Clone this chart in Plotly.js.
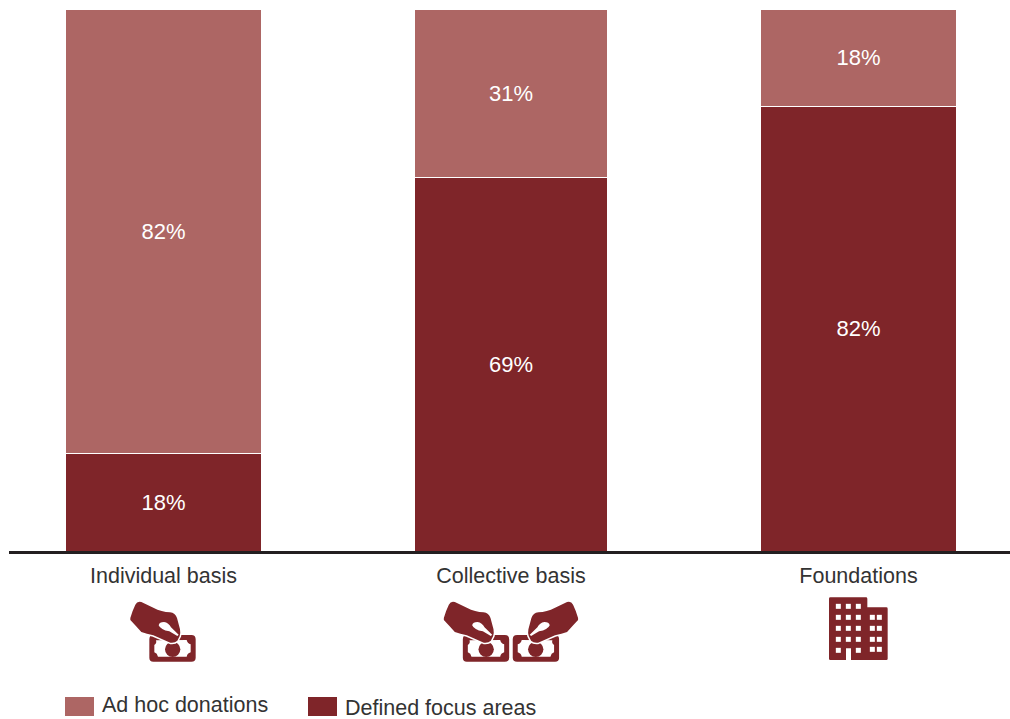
<!DOCTYPE html>
<html>
<head>
<meta charset="utf-8">
<script src="https://cdn.plot.ly/plotly-3.0.1.min.js"></script>
<style>html,body{margin:0;padding:0;background:#fff}#chart{width:1010px;height:719px}</style>
</head>
<body>
<div id="chart"></div>
<script>
// Giving approaches and the share of each that goes to defined focus areas
const categories = ['Individual basis', 'Collective basis', 'Foundations'];
const definedFocusAreas = [18, 69, 82];
const adHocDonations = [82, 31, 18];
const barWidths = [0.564, 0.558, 0.564];

const DARK = '#7f2529';
const LIGHT = '#ad6664';
const INK = '#333333';
const FONT = '"Liberation Sans", Arial, sans-serif';

// Plot area in page pixels, used to place the icons and the key
const W = 1010, H = 719, L = 9, T = 9, B = 551;
const px = x => (x - L) / (W - L);
const py = y => (B - y) / (B - T);

// Hand dropping a banknote, drawn on a 300x240 grid
function handIcon(mirror) {
  const hand = 'M31 84Q38 60 46 44Q52 32 64 36L100 53Q125 66 150 67Q166 69 171 84L180 118Q182 128 179 138L172 152Q164 160 151 158L100 136Q80 132 64 126Q48 108 31 90Z';
  const body =
    '<path fill="' + DARK + '" fill-rule="evenodd" d="M100 135H214Q227 135 227 148V203Q227 215 214 215H100Q88 215 88 203V148Q88 135 100 135Z' +
    'M108 151Q111 160 103 165V187Q112 190 114 200H200Q202 190 212 187V163Q202 160 200 150Z"/>' +
    '<circle cx="158" cy="178" r="23" fill="' + DARK + '"/>' +
    '<path fill="#fff" stroke="#fff" stroke-width="9" stroke-linejoin="round" d="' + hand + '"/>' +
    '<path fill="' + DARK + '" d="' + hand + '"/>' +
    '<path fill="#fff" d="M116 106Q118 96 132 96Q146 98 153 112L176 134L172 138L148 124Q122 120 116 106Z"/>';
  const inner = mirror ? '<g transform="translate(300 0) scale(-1 1)">' + body + '</g>' : body;
  return svgUri(300, 240, inner);
}

// Office building with rows of windows, on a 255x225 grid
function buildingIcon() {
  let s = '<path fill="' + DARK + '" d="M46 22H153Q157 22 157 26V52H214Q218 52 218 56V206Q218 210 214 210H108V175H93V210H46Q42 210 42 206V26Q42 22 46 22Z"/>';
  const rows = [49, 82, 115, 148, 181], cols = [70, 100, 130];
  rows.forEach(r => cols.forEach(c => {
    if (!(r === 181 && c === 100)) s += '<rect fill="#fff" x="' + (c - 7.5) + '" y="' + (r - 7.5) + '" width="15" height="15"/>';
  }));
  [82, 115, 148, 178].forEach(r => [172, 193].forEach(c => {
    s += '<rect fill="#fff" x="' + (c - 7.5) + '" y="' + (r - 7.5) + '" width="15" height="15"/>';
  }));
  return svgUri(255, 225, s);
}

function svgUri(w, h, inner) {
  const svg = '<svg xmlns="http://www.w3.org/2000/svg" viewBox="0 0 ' + w + ' ' + h + '" width="' + w + '" height="' + h + '">' + inner + '</svg>';
  return 'data:image/svg+xml;charset=utf-8,' + encodeURIComponent(svg);
}

function icon(source, left, top, w, h) {
  return {
    source, xref: 'paper', yref: 'paper', xanchor: 'left', yanchor: 'top',
    x: px(left), y: py(top), sizex: w / (W - L), sizey: h / (B - T),
    sizing: 'stretch', layer: 'above'
  };
}

function keySwatch(color, x0) {
  return {
    type: 'rect', xref: 'paper', yref: 'paper',
    x0: px(x0), x1: px(x0 + 29), y0: py(716), y1: py(697),
    fillcolor: color, line: {width: 0}
  };
}

function keyLabel(text, x, y) {
  return {
    text, xref: 'paper', yref: 'paper', x: px(x), y: py(y),
    xanchor: 'left', yanchor: 'middle', showarrow: false,
    font: {family: FONT, size: 21.5, color: INK}
  };
}

function stack(name, values, color) {
  return {
    type: 'bar', name, x: categories, y: values, width: barWidths,
    marker: {color, line: {color: '#ffffff', width: 1}},
    text: values.map(v => v + '%'), textposition: 'inside',
    insidetextanchor: 'middle', textangle: 0, constraintext: 'none',
    textfont: {family: FONT, size: 22, color: '#ffffff'},
    hoverinfo: 'x+name+text'
  };
}

const traces = [
  stack('Defined focus areas', definedFocusAreas, DARK),
  stack('Ad hoc donations', adHocDonations, LIGHT)
];

const layout = {
  width: W, height: H, barmode: 'stack', showlegend: false,
  margin: {l: L, r: 0, t: T, b: H - B, pad: 0},
  paper_bgcolor: '#fff', plot_bgcolor: '#fff',
  font: {family: FONT, color: INK},
  xaxis: {
    type: 'category', range: [-0.4446, 2.436], fixedrange: true,
    showline: true, linecolor: '#231f20', linewidth: 3,
    ticks: 'outside', ticklen: 3, tickcolor: 'rgba(0,0,0,0)',
    tickfont: {family: FONT, size: 21.5, color: INK}, showgrid: false, zeroline: false
  },
  yaxis: {range: [0, 100], visible: false, fixedrange: true},
  shapes: [keySwatch(LIGHT, 65), keySwatch(DARK, 308)],
  annotations: [keyLabel('Ad hoc donations', 100, 705), keyLabel('Defined focus areas', 343, 708)],
  images: [
    icon(handIcon(false), 120, 590, 100, 80),
    icon(handIcon(false), 433.5, 590, 100, 80),
    icon(handIcon(true), 488.4, 590, 100, 80),
    icon(buildingIcon(), 815, 590, 85, 75)
  ]
};

Plotly.newPlot('chart', traces, layout, {displayModeBar: false, staticPlot: true});
</script>
</body>
</html>
